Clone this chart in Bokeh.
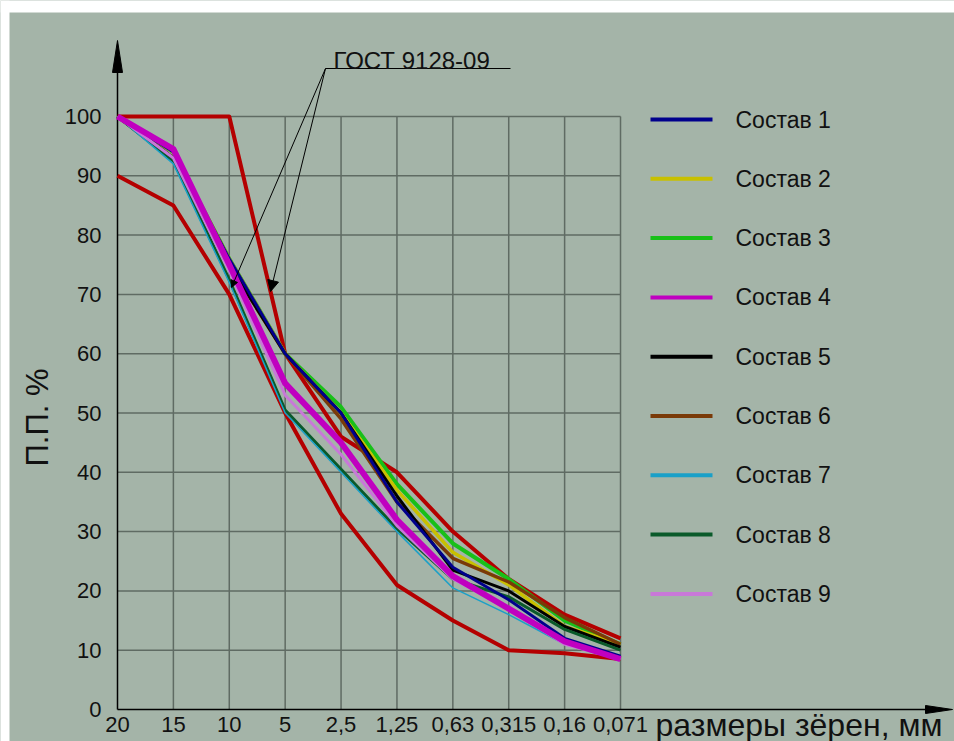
import math
from bokeh.plotting import figure
from bokeh.models import Range1d, FixedTicker, Arrow, NormalHead
from bokeh.core.properties import value
from bokeh.embed import file_html
from bokeh.resources import INLINE

# ---------------- data ----------------
sizes = ["20", "15", "10", "5", "2,5", "1,25", "0,63", "0,315", "0,16", "0,071"]
y_ticks = [0, 10, 20, 30, 40, 50, 60, 70, 80, 90, 100]

gost_upper = [100, 100, 100, 60, 46, 40, 30, 22, 16, 12]
gost_lower = [90, 85, 70, 50, 33, 21, 15, 10, 9.5, 8.5]

sostav_1 = [100, 94, 76, 60, 50, 35, 24, 18.5, 12, 9]
sostav_2 = [100, 94, 76, 60, 50, 37, 26.5, 21, 14, 11]
sostav_3 = [100, 94, 76, 60, 51, 38, 28, 22, 15, 11]
sostav_4 = [100, 94.5, 75, 55, 45, 32, 22.5, 17, 11.5, 8.5]
sostav_5 = [100, 93, 75, 60, 50, 36, 23.5, 20, 14, 10.5]
sostav_6 = [100, 93, 75, 60, 49, 35, 25.5, 21.5, 15.5, 11]
sostav_7 = [100, 92, 72, 50, 40, 30, 20.5, 16, 11, 8.5]
sostav_8 = [100, 92.5, 72.5, 50.5, 40.5, 30.5, 22, 19, 13.5, 10]
sostav_9 = [100, 93, 74, 53, 43, 31, 22, 17, 11, 8.5]

legend_names = ["Состав 1", "Состав 2", "Состав 3", "Состав 4", "Состав 5",
                "Состав 6", "Состав 7", "Состав 8", "Состав 9"]
gost_label = "ГОСТ 9128-09"
x_title = "размеры зёрен, мм"
y_title = "П.П. %"

# ---------------- styles ----------------
BG = "#a4b4a8"
GRID = "#5f6b63"
RED = "#b40000"
INK = "#111111"
FONT = "Liberation Sans"
series = [sostav_1, sostav_2, sostav_3, sostav_4, sostav_5,
          sostav_6, sostav_7, sostav_8, sostav_9]
colors = ["#00008c", "#c8c000", "#18c018", "#c000c0", "#000000",
          "#7a3a08", "#1aa0c8", "#0a5a2a", "#c878d8"]
widths = [3, 3.5, 4, 6, 3, 3.5, 1.5, 3, 3]
draw_order = [2, 1, 5, 4, 7, 0, 6, 8, 3]

xs = list(range(len(sizes)))
n = len(sizes) - 1

X_PX = 55.89           # pixels per category step
Y_PX = 5.93            # pixels per percent
W, H = 954, 741
AX_X, AX_Y = 117, 709  # pixel position of the axes origin


def px(xp):
    return (xp - AX_X) / X_PX


def py(yp):
    return (AX_Y - yp) / Y_PX


p = figure(width=W, height=H, output_backend="svg", toolbar_location=None,
           x_range=Range1d(px(0), px(W)), y_range=Range1d(py(H), py(0)),
           min_border=0, min_border_left=0, min_border_right=0,
           min_border_top=0, min_border_bottom=0)
p.background_fill_color = BG
p.border_fill_color = BG
p.outline_line_color = None
p.grid.visible = False

# white page strips like in the source picture
p.quad(left=[px(0), px(0)], right=[px(W), px(9)], top=[py(0), py(0)],
       bottom=[py(12), py(H)], fill_color="white", line_color=None)

# axes drawn inside the frame at the origin
p.xaxis.fixed_location = 0
p.yaxis.fixed_location = 0
p.xaxis.ticker = FixedTicker(ticks=xs)
p.xaxis.major_label_overrides = {i: s for i, s in zip(xs, sizes)}
p.xaxis.major_label_text_font = FONT
p.xaxis.major_label_text_font_size = "22px"
p.xaxis.major_label_text_color = INK
p.xaxis.major_label_standoff = 1
p.xaxis.axis_line_color = None
p.xaxis.major_tick_line_color = None
p.xaxis.minor_tick_line_color = None

p.yaxis.ticker = FixedTicker(ticks=y_ticks)
p.yaxis.major_label_text_font = FONT
p.yaxis.major_label_text_font_size = "22px"
p.yaxis.major_label_text_color = INK
p.yaxis.major_label_standoff = 10
p.yaxis.axis_line_color = None
p.yaxis.major_tick_line_color = None
p.yaxis.minor_tick_line_color = None

# grid
p.segment(x0=xs[1:], y0=[0] * n, x1=xs[1:], y1=[y_ticks[-1]] * n,
          line_color=GRID, line_width=1.5)
p.segment(x0=[0] * (len(y_ticks) - 1), y0=y_ticks[1:], x1=[xs[-1]] * (len(y_ticks) - 1),
          y1=y_ticks[1:], line_color=GRID, line_width=1.5)

# axis lines with arrows
y_tip = py(40)
y_base = py(72)
p.segment(x0=[0], y0=[0], x1=[0], y1=[y_base], line_color="black", line_width=1.5)
hw = 5 / X_PX
p.patch(x=[-hw, 0, hw], y=[y_base, y_tip, y_base], fill_color="black", line_color="black")
x_tip = px(952)
x_base = px(925)
p.segment(x0=[0], y0=[0], x1=[x_base], y1=[0], line_color="black", line_width=1.5)
hh = 4 / Y_PX
p.patch(x=[x_base, x_tip, x_base], y=[-hh, 0, hh], fill_color="black", line_color="black")

# GOST bounds
p.line(xs, gost_upper, line_color=RED, line_width=4, line_join="round")
p.line(xs, gost_lower, line_color=RED, line_width=4, line_join="round")

# compositions
for i in draw_order:
    p.line(xs, series[i], line_color=colors[i], line_width=widths[i], line_join="round")

# GOST leader lines
p.segment(x0=[px(325)], y0=[py(68)], x1=[px(510)], y1=[py(68)], line_color="black", line_width=1.2)
p.add_layout(Arrow(end=NormalHead(size=7, fill_color="black", line_color="black"),
                   x_start=px(325), y_start=py(68), x_end=px(231), y_end=py(287),
                   line_color="black", line_width=1))
p.add_layout(Arrow(end=NormalHead(size=11, fill_color="black", line_color="black"),
                   x_start=px(325), y_start=py(68), x_end=px(270), y_end=py(291),
                   line_color="black", line_width=1))
p.text(x=[px(333)], y=[py(60)], text=[gost_label], text_font=value(FONT),
       text_font_size="24px", text_color=INK, text_baseline="alphabetic")

# legend (manual)
leg_y = [py(119) - 10 * k for k in range(len(legend_names))]
for k in range(len(legend_names)):
    p.segment(x0=[px(650)], y0=[leg_y[k]], x1=[px(712)], y1=[leg_y[k]],
              line_color=colors[k], line_width=4)
p.text(x=[px(735)] * len(legend_names), y=leg_y, text=legend_names,
       text_font=value(FONT), text_font_size="23px", text_color=INK,
       text_baseline="middle")

# axis titles
p.text(x=[px(655)], y=[py(706)], text=[x_title], text_font=value(FONT),
       text_font_size="32px", text_color=INK, text_baseline="top")
p.text(x=[px(37)], y=[py(417)], text=[y_title], text_font=value(FONT),
       text_font_size="31px", text_color=INK, angle=math.pi / 2,
       text_align="center", text_baseline="middle")

open("out.html", "w").write(file_html(p, INLINE))
